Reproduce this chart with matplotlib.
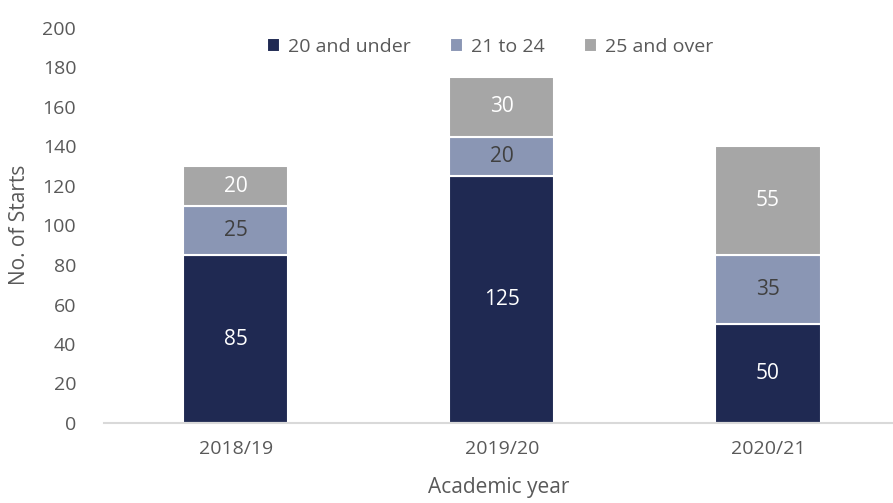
import matplotlib
matplotlib.use("Agg")
import matplotlib.pyplot as plt
import numpy as np

years = ["2018/19", "2019/20", "2020/21"]
under_20 = [85, 125, 50]
age_21_24 = [25, 20, 35]
over_25 = [20, 30, 55]
series_names = ["20 and under", "21 to 24", "25 and over"]

COLORS = ["#1F2952", "#8A96B4", "#A6A6A6"]
LABEL_COLORS = ["white", "#404040", "white"]
TXT = "#595959"

plt.rcParams["font.family"] = ["Open Sans", "DejaVu Sans"]

fig = plt.figure(figsize=(8.93, 5.03), dpi=100)
ax = fig.add_axes([104 / 893, 80 / 503, 1 - 104 / 893, 395 / 503])

x = np.arange(len(years))
bottom = np.zeros(len(years))
for vals, name, col, lc in zip([under_20, age_21_24, over_25], series_names, COLORS, LABEL_COLORS):
    bars = ax.bar(x, vals, 0.395, bottom=bottom, color=col, edgecolor="white",
                  linewidth=1.5, label=name, zorder=2)
    for b, v in zip(bars, vals):
        ax.text(b.get_x() + b.get_width() / 2, b.get_y() + v / 2, str(v),
                ha="center", va="center", color=lc, fontsize=15)
    bottom += np.array(vals)

ax.set_xlim(-0.496, 2.47)
ax.set_ylim(0, 200)
ax.set_yticks(range(0, 201, 20))
ax.set_xticks(x)
ax.set_xticklabels(years)
ax.tick_params(axis="both", length=0, labelsize=14, colors=TXT)
ax.tick_params(axis="y", pad=20)
ax.tick_params(axis="x", pad=12)
for s in ["top", "right", "left"]:
    ax.spines[s].set_visible(False)
ax.spines["bottom"].set_color("#D9D9D9")
ax.spines["bottom"].set_linewidth(1.5)

ax.set_xlabel("Academic year", fontsize=15, color=TXT, labelpad=14)
fig.text(20 / 893, 1 - 225 / 503, "No. of Starts", rotation=90, ha="center",
         va="center", fontsize=15, color=TXT)

leg = fig.legend(loc="center", bbox_to_anchor=(490 / 893, 1 - 47 / 503), ncol=3,
                 frameon=False, fontsize=14, handlelength=0.7, handleheight=0.7,
                 handletextpad=0.4, columnspacing=2.0)
for t in leg.get_texts():
    t.set_color(TXT)

fig.savefig("out.png", dpi=100)
